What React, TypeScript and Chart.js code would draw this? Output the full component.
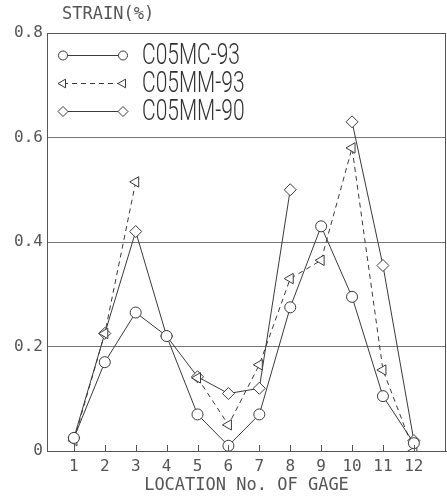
import React, { useEffect, useRef } from 'react';
import { Chart, registerables } from 'chart.js';
import { drawPoint } from 'chart.js/helpers';

Chart.register(...registerables);

const GAGES = [1, 2, 3, 4, 5, 6, 7, 8, 9, 10, 11, 12];
const C05MC_93 = [0.025, 0.17, 0.265, 0.22, 0.07, 0.01, 0.07, 0.275, 0.43, 0.295, 0.105, 0.015];
const C05MM_93 = [0.02, 0.225, 0.515, null, 0.14, 0.05, 0.165, 0.33, 0.365, 0.58, 0.155, 0.0];
const C05MM_90 = [0.025, 0.225, 0.42, 0.22, 0.142, 0.11, 0.12, 0.5, null, 0.63, 0.355, 0.02];
const SERIES_LABELS = ['C05MC-93', 'C05MM-93', 'C05MM-90'];
const Y_TICKS = [0, 0.2, 0.4, 0.6, 0.8];
const Y_TITLE = 'STRAIN(%)';
const X_TITLE = 'LOCATION No. OF GAGE';

const INK = '#3a3a3a';
const MONO = '"DejaVu Sans Mono", monospace';
const W = 447;
const H = 497;

const toXY = (vals: (number | null)[]) => GAGES.map((g, i) => ({ x: g, y: vals[i] }));

const decor = {
  id: 'decor',
  afterLayout(chart: any) {
    // stretch plot area to the right edge like the reference
    const ca = chart.chartArea;
    ca.right = W - 1;
    ca.width = ca.right - ca.left;
    const xs = chart.scales.x;
    xs.right = ca.right;
    xs.width = ca.right - xs.left;
    xs.configure();
  },
  afterDatasetsDraw(chart: any) {
    const { ctx, chartArea } = chart;
    const { left, right, top, bottom } = chartArea;
    const xs = chart.scales.x;
    ctx.save();
    ctx.strokeStyle = '#555';
    ctx.lineWidth = 1;
    ctx.strokeRect(left + 0.5, top + 0.5, right - left - 1, bottom - top);
    GAGES.forEach((g) => {
      const px = Math.round(xs.getPixelForValue(g)) + 0.5;
      ctx.beginPath();
      ctx.moveTo(px, bottom);
      ctx.lineTo(px, bottom - 6);
      ctx.stroke();
    });
    ctx.restore();
  },
  afterDraw(chart: any) {
    const { ctx, chartArea } = chart;
    ctx.save();
    ctx.fillStyle = '#555';
    ctx.font = `17px ${MONO}`;
    ctx.textBaseline = 'middle';
    ctx.textAlign = 'left';
    ctx.fillText(Y_TITLE, chartArea.left + 15, 15);

    const x0 = chartArea.left + 16;
    const x1 = chartArea.left + 76;
    const tx = chartArea.left + 95;
    const rows = [55, 83, 111];
    ctx.font = `300 30px Roboto, "DejaVu Sans", sans-serif`;
    const ref = ctx.measureText(SERIES_LABELS[0]).width;
    const sx = 98 / ref;
    chart.data.datasets.forEach((ds: any, i: number) => {
      const y = rows[i];
      ctx.strokeStyle = INK;
      ctx.lineWidth = 1;
      ctx.setLineDash(ds.borderDash || []);
      ctx.beginPath();
      ctx.moveTo(x0, y + 0.5);
      ctx.lineTo(x1, y + 0.5);
      ctx.stroke();
      ctx.setLineDash([]);
      ctx.fillStyle = '#fff';
      const opts = {
        pointStyle: ds.pointStyle,
        radius: ds.pointRadius - 1,
        rotation: ds.pointRotation || 0,
        borderWidth: 1,
      };
      drawPoint(ctx, opts as any, x0, y + 0.5);
      drawPoint(ctx, opts as any, x1, y + 0.5);
      ctx.fillStyle = '#333';
      ctx.save();
      ctx.translate(tx, y + 1);
      ctx.scale(sx, 1);
      ctx.textBaseline = 'middle';
      ctx.fillText(ds.label, 0, 0);
      ctx.restore();
    });
    ctx.restore();
  },
};

export default function App() {
  const ref = useRef<HTMLCanvasElement>(null);
  useEffect(() => {
    if (!ref.current) return;
    const common = {
      borderColor: INK,
      borderWidth: 1,
      pointBorderColor: INK,
      pointBackgroundColor: '#fff',
      pointBorderWidth: 1,
      pointRadius: 6,
      tension: 0,
      spanGaps: false,
    };
    const chart = new Chart(ref.current, {
      type: 'line',
      data: {
        datasets: [
          { ...common, label: SERIES_LABELS[0], data: toXY(C05MC_93), pointStyle: 'circle', pointRadius: 5.5 },
          { ...common, label: SERIES_LABELS[1], data: toXY(C05MM_93), pointStyle: 'triangle', pointRotation: -90, borderDash: [5, 4] },
          { ...common, label: SERIES_LABELS[2], data: toXY(C05MM_90), pointStyle: 'rectRot', pointRadius: 6 },
        ] as any,
      },
      options: {
        animation: false,
        responsive: false,
        devicePixelRatio: 1,
        layout: { padding: { top: 33, right: 1, left: 0, bottom: 0 } },
        plugins: { legend: { display: false }, tooltip: { enabled: false }, title: { display: false } },
        scales: {
          x: {
            type: 'linear',
            min: 0.13,
            max: 13.04,
            afterBuildTicks: (s: any) => { s.ticks = GAGES.map((v) => ({ value: v })); },
            afterFit: (s: any) => { s.height = 46; s.paddingLeft = 0; s.paddingRight = 0; },
            grid: { display: false, drawTicks: false },
            border: { display: true, color: '#555' },
            ticks: { font: { family: MONO, size: 16 }, color: '#555', padding: 6, maxRotation: 0, autoSkip: false },
            title: { display: true, text: X_TITLE, font: { family: MONO, size: 17 }, color: '#555', padding: { top: 0, bottom: 1 } },
          },
          y: {
            type: 'linear',
            min: 0,
            max: 0.8,
            afterBuildTicks: (s: any) => { s.ticks = Y_TICKS.map((v) => ({ value: v })); },
            afterFit: (s: any) => { s.width = 47; s.paddingTop = 0; s.paddingBottom = 0; },
            grid: { color: '#777', drawTicks: false },
            border: { display: true, color: '#555' },
            ticks: {
              font: { family: MONO, size: 16 },
              color: '#555',
              padding: 4,
              callback: (v: any) => (v === 0 ? '0' : Number(v).toFixed(1)),
            },
          },
        },
      },
      plugins: [decor],
    });
    return () => chart.destroy();
  }, []);
  return (
    <div style={{ position: 'fixed', left: 0, top: 0, width: W, height: H, background: '#fff' }}>
      <canvas ref={ref} width={W} height={H} style={{ display: 'block', width: W, height: H }} />
    </div>
  );
}
